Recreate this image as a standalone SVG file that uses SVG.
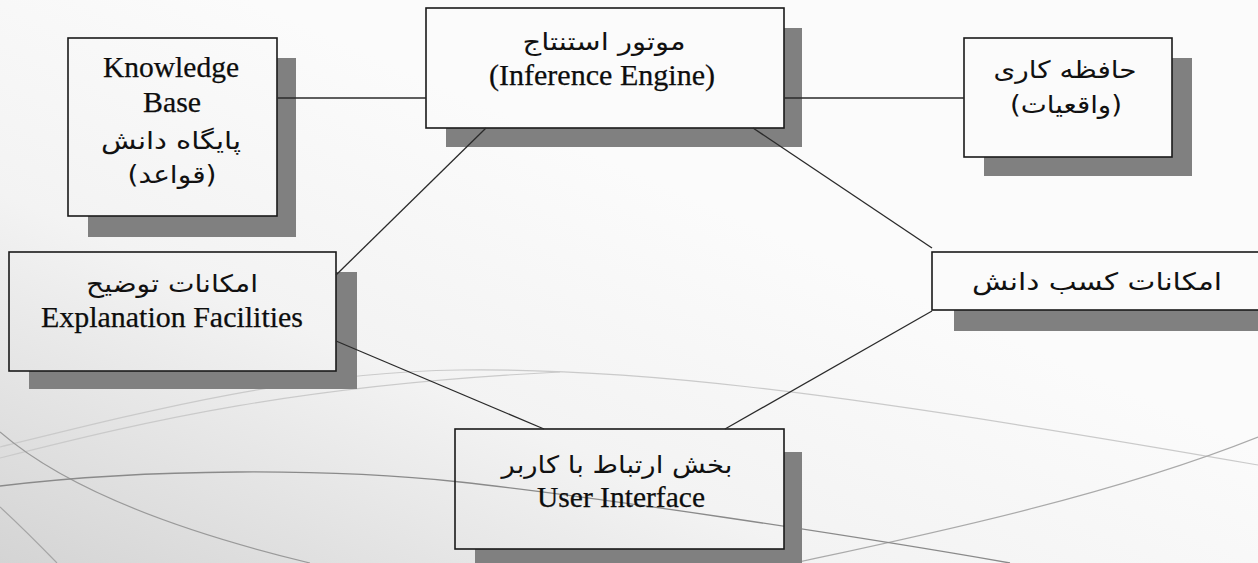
<svg xmlns="http://www.w3.org/2000/svg" width="1258" height="563" viewBox="0 0 1258 563">
<defs>
<linearGradient id="bg" gradientUnits="userSpaceOnUse" x1="250" y1="0" x2="0" y2="563">
<stop offset="0" stop-color="#fbfbfb"/>
<stop offset="0.45" stop-color="#f3f3f3"/>
<stop offset="1" stop-color="#d4d4d4"/>
</linearGradient>
<style>
.shadow{fill:#808080;stroke:none}
.box{fill:url(#bg);stroke:#1a1a1a;stroke-width:1.6}
.conn{stroke:#2a2a2a;stroke-width:1.3;fill:none}
.en{font-family:"Liberation Serif","Times New Roman",serif;font-size:29px;fill:#0d0d0d;text-anchor:middle;stroke:#0d0d0d;stroke-width:0.25}
.fa{font-family:"DejaVu Sans","Noto Sans",sans-serif;font-size:24px;fill:#111;text-anchor:middle}
.bgl{fill:none}
</style>
</defs>
<g id="background">
<rect x="0" y="0" width="1258" height="563" fill="url(#bg)"/>
<path class="bgl" d="M0,447 C150,410 300,372 460,370 C620,368 800,385 1258,465" stroke="#cacaca" stroke-width="1.2"/>
<path class="bgl" d="M0,458 C150,420 300,385 560,372" stroke="#cacaca" stroke-width="1.2"/>
<path class="bgl" d="M0,432 Q90,510 310,563" stroke="#9a9a9a" stroke-width="1.2"/>
<path class="bgl" d="M0,507 Q25,530 57,563" stroke="#a5a5a5" stroke-width="1.2"/>
<path class="bgl" d="M780,566 C900,540 1100,500 1258,437" stroke="#aaaaaa" stroke-width="1.2"/>
<path class="bgl" d="M0,486 C150,468 330,468 460,482 S850,535 1010,563" stroke="#8a8a8a" stroke-width="1.3"/>
</g>
<g id="knowledge-base">
<rect class="shadow" x="88" y="58" width="208" height="179"/>
<rect class="box" x="68" y="38" width="209" height="178"/>
<text class="en" x="171" y="77" textLength="136" lengthAdjust="spacingAndGlyphs">Knowledge</text>
<text class="en" x="172" y="112" textLength="58" lengthAdjust="spacingAndGlyphs">Base</text>
<text class="fa" x="171" y="149" textLength="140" lengthAdjust="spacingAndGlyphs">پایگاه دانش</text>
<text class="fa" x="172" y="183" textLength="89" lengthAdjust="spacingAndGlyphs">(قواعد)</text>
</g>
<g id="inference-engine">
<rect class="shadow" x="446" y="28" width="356" height="119"/>
<rect class="box" x="426" y="8" width="358" height="120"/>
<text class="fa" x="604" y="50" textLength="163" lengthAdjust="spacingAndGlyphs">موتور استنتاج</text>
<text class="en" x="602" y="85" textLength="226" lengthAdjust="spacingAndGlyphs">(Inference Engine)</text>
</g>
<g id="working-memory">
<rect class="shadow" x="984" y="58" width="208" height="118"/>
<rect class="box" x="964" y="38" width="208" height="119"/>
<text class="fa" x="1065" y="78" textLength="143" lengthAdjust="spacingAndGlyphs">حافظه کاری</text>
<text class="fa" x="1066" y="113" textLength="112" lengthAdjust="spacingAndGlyphs">(واقعیات)</text>
</g>
<g id="explanation-facilities">
<rect class="shadow" x="29" y="272" width="328" height="117"/>
<rect class="box" x="9" y="252" width="327" height="119"/>
<text class="fa" x="172" y="292" textLength="172" lengthAdjust="spacingAndGlyphs">امکانات توضیح</text>
<text class="en" x="172" y="327" textLength="262" lengthAdjust="spacingAndGlyphs">Explanation Facilities</text>
</g>
<g id="knowledge-acquisition">
<rect class="shadow" x="954" y="272" width="320" height="59"/>
<rect class="box" x="932" y="252" width="340" height="58"/>
<text class="fa" x="1097" y="290" textLength="250" lengthAdjust="spacingAndGlyphs">امکانات کسب دانش</text>
</g>
<g id="user-interface">
<path class="shadow" d="M784,452 H802 V563 H475 V549 H784 Z"/>
<rect x="455" y="429" width="329" height="120" fill="none" stroke="#1a1a1a" stroke-width="1.6"/>
<text class="fa" x="617" y="473" textLength="231" lengthAdjust="spacingAndGlyphs">بخش ارتباط با کاربر</text>
<text class="en" x="621" y="507" textLength="168" lengthAdjust="spacingAndGlyphs">User Interface</text>
</g>
<g id="connectors">
<line class="conn" x1="277" y1="98" x2="426" y2="98"/>
<line class="conn" x1="784" y1="98" x2="964" y2="98"/>
<line class="conn" x1="486" y1="128" x2="336" y2="275"/>
<line class="conn" x1="753" y1="128" x2="932" y2="248"/>
<line class="conn" x1="336" y1="341" x2="544" y2="429"/>
<line class="conn" x1="932" y1="311" x2="725" y2="429"/>
</g>
</svg>
